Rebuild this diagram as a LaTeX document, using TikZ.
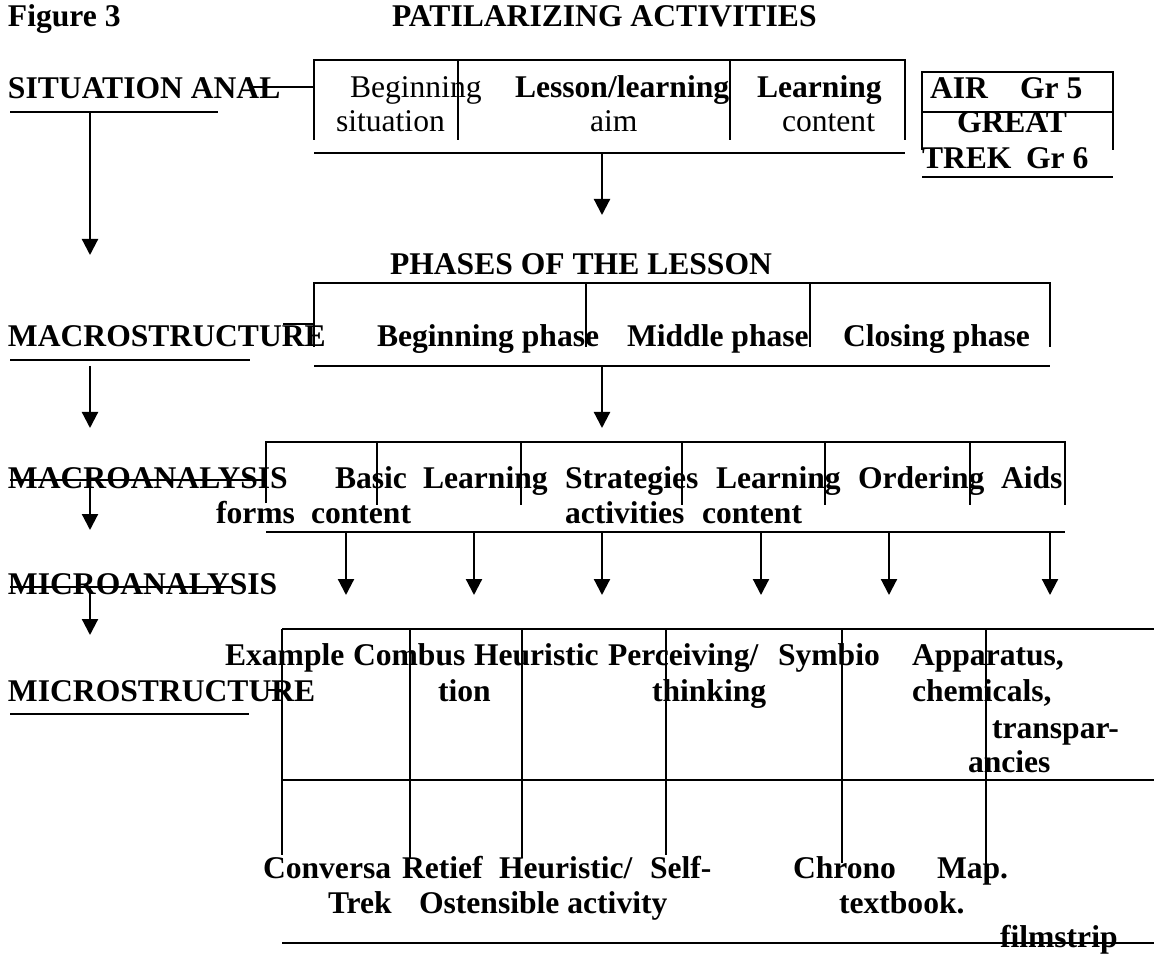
\documentclass[tikz,border=0pt]{standalone}
\usepackage{fontspec}
\setmainfont{Liberation Serif}
\usetikzlibrary{arrows.meta}
\tikzset{
  lbl/.style={anchor=base west, inner sep=0pt, outer sep=0pt, font=\fontsize{31.6}{34}\selectfont\bfseries},
  reg/.style={anchor=base west, inner sep=0pt, outer sep=0pt, font=\fontsize{31.6}{34}\selectfont},
  ln/.style={line width=2.2pt, line cap=butt, draw=black},
  arr/.style={ln, -{Triangle[length=16pt,width=16pt]}},
}
\begin{document}
\begin{tikzpicture}[x=1pt,y=-1pt]
\useasboundingbox (0,0) rectangle (1154,957);
% ---------- titles
\node[lbl] (fig) at (8,27) {Figure 3};
\node[lbl] (title) at (392,27) {PATILARIZING ACTIVITIES};
% ---------- situation analysis row
\node[lbl] (sit) at (8,99) {SITUATION ANAL};
\node[reg] (beg1) at (350,98) {Beginning};
\node[reg] (beg2) at (336,132) {situation};
\node[lbl] (les1) at (515,98) {Lesson/learning};
\node[reg] (les2) at (590,132) {aim};
\node[lbl] (lc1) at (757,98) {Learning};
\node[reg] (lc2) at (782,132) {content};
\node[lbl] (air) at (930,99) {AIR};
\node[lbl] (gr5) at (1020,99) {Gr 5};
\node[lbl] (great) at (957,133) {GREAT};
\node[lbl] (trek) at (922,169) {TREK};
\node[lbl] (gr6) at (1026,169) {Gr 6};
% box 1
\draw[ln] (314,140) -- (314,60) -- (905,60) -- (905,140);
\draw[ln] (458,60) -- (458,140);
\draw[ln] (730,60) -- (730,140);
\draw[ln] (314,153) -- (905,153);
% air box
\draw[ln] (922,150) -- (922,72) -- (1113,72) -- (1113,150);
\draw[ln] (922,112) -- (1113,112);
\draw[ln] (922,177) -- (1113,177);
% situation connectors
\coordinate (sitR) at (249,87);
\coordinate (box1L) at (314,87);
\draw[ln] (sitR) -- (box1L);
\draw[ln] (10,112) -- (218,112);
\coordinate (a1s) at (90,112);
\coordinate (a1e) at (90,255);
\draw[arr] (a1s) -- (a1e);
\coordinate (b1s) at (602,153);
\coordinate (b1e) at (602,215);
\draw[arr] (b1s) -- (b1e);
% ---------- macrostructure row
\node[lbl] (phases) at (390,275) {PHASES OF THE LESSON};
\node[lbl] (macs) at (8,347) {MACROSTRUCTURE};
\node[lbl] (bph) at (377,347) {Beginning phase};
\node[lbl] (mph) at (627,347) {Middle phase};
\node[lbl] (cph) at (843,347) {Closing phase};
\draw[ln] (314,347) -- (314,283) -- (1050,283) -- (1050,347);
\draw[ln] (586,283) -- (586,347);
\draw[ln] (810,283) -- (810,347);
\draw[ln] (314,366) -- (1050,366);
\coordinate (macsR) at (283,324);
\coordinate (box2L) at (314,324);
\draw[ln] (macsR) -- (box2L);
\draw[ln] (10,360) -- (250,360);
\coordinate (a2s) at (90,366);
\coordinate (a2e) at (90,428);
\draw[arr] (a2s) -- (a2e);
\coordinate (b2s) at (602,366);
\coordinate (b2e) at (602,428);
\draw[arr] (b2s) -- (b2e);
% ---------- macroanalysis row
\node[lbl] (maca) at (8,488) {MACROANALYSIS};
\node[lbl] (c1a) at (335,488) {Basic};
\node[lbl] (c2a) at (423,488) {Learning};
\node[lbl] (c3a) at (565,488) {Strategies};
\node[lbl] (c4a) at (716,488) {Learning};
\node[lbl] (c5a) at (858,488) {Ordering};
\node[lbl] (c6a) at (1001,488) {Aids};
\node[lbl] (c1b) at (216,523) {forms};
\node[lbl] (c2b) at (311,523) {content};
\node[lbl] (c3b) at (565,523) {activities};
\node[lbl] (c4b) at (702,523) {content};
\draw[ln] (266,503) -- (266,442) -- (1065,442) -- (1065,505);
\foreach \xx in {377,521,682,825,970} \draw[ln] (\xx,442) -- (\xx,505);
\draw[ln] (266,532) -- (1065,532);
\coordinate (macaL) at (10,480);
\coordinate (box3L) at (266,480);
\draw[ln] (macaL) -- (box3L);
\coordinate (a3s) at (90,480);
\coordinate (a3e) at (90,530);
\draw[arr] (a3s) -- (a3e);
\foreach \xx [count=\i] in {346,474,602,761,889,1050} {
  \coordinate (d\i s) at (\xx,532);
  \coordinate (d\i e) at (\xx,595);
  \draw[arr] (d\i s) -- (d\i e);
}
% ---------- microanalysis row
\node[lbl] (mica) at (8,594) {MICROANALYSIS};
\coordinate (micaL) at (10,587);
\coordinate (micaR) at (233,587);
\draw[ln] (micaL) -- (micaR);
\coordinate (a4s) at (90,587);
\coordinate (a4e) at (90,635);
\draw[arr] (a4s) -- (a4e);
% ---------- microstructure row
\node[lbl] (mics) at (8,701) {MICROSTRUCTURE};
\draw[ln] (10,714) -- (249,714);
\coordinate (micsR) at (267,690);
\coordinate (box4L) at (282,690);
\draw[ln] (micsR) -- (box4L);
\draw[ln] (282,629) -- (1154,629);
\draw[ln] (282,629) -- (282,855);
\draw[ln] (410,629) -- (410,858);
\draw[ln] (522,629) -- (522,858);
\draw[ln] (666,629) -- (666,855);
\draw[ln] (842,629) -- (842,863);
\draw[ln] (986,629) -- (986,875);
\draw[ln] (282,780) -- (1154,780);
\draw[ln] (282,943) -- (1154,943);
% row 1 texts
\node[lbl] (r1a) at (225,665) {Example};
\node[lbl] (r1b) at (353,665) {Combus};
\node[lbl] (r1c) at (474,665) {Heuristic};
\node[lbl] (r1d) at (608,665) {Perceiving/};
\node[lbl] (r1e) at (778,665) {Symbio};
\node[lbl] (r1f) at (912,665) {Apparatus,};
\node[lbl] (r1b2) at (438,701) {tion};
\node[lbl] (r1d2) at (652,701) {thinking};
\node[lbl] (r1f2) at (912,701) {chemicals,};
\node[lbl] (r1f3) at (992,738) {transpar-};
\node[lbl] (r1f4) at (968,772) {ancies};
% row 2 texts
\node[lbl] (r2a) at (263,878) {Conversa};
\node[lbl] (r2b) at (402,878) {Retief};
\node[lbl] (r2c) at (499,878) {Heuristic/};
\node[lbl] (r2d) at (650,878) {Self-};
\node[lbl] (r2e) at (793,878) {Chrono};
\node[lbl] (r2f) at (937,878) {Map.};
\node[lbl] (r2a2) at (328,913) {Trek};
\node[lbl] (r2c2) at (419,913) {Ostensible activity};
\node[lbl] (r2e2) at (839,913) {textbook.};
\node[lbl] (r2f2) at (1000,947) {filmstrip};
\end{tikzpicture}
\end{document}
